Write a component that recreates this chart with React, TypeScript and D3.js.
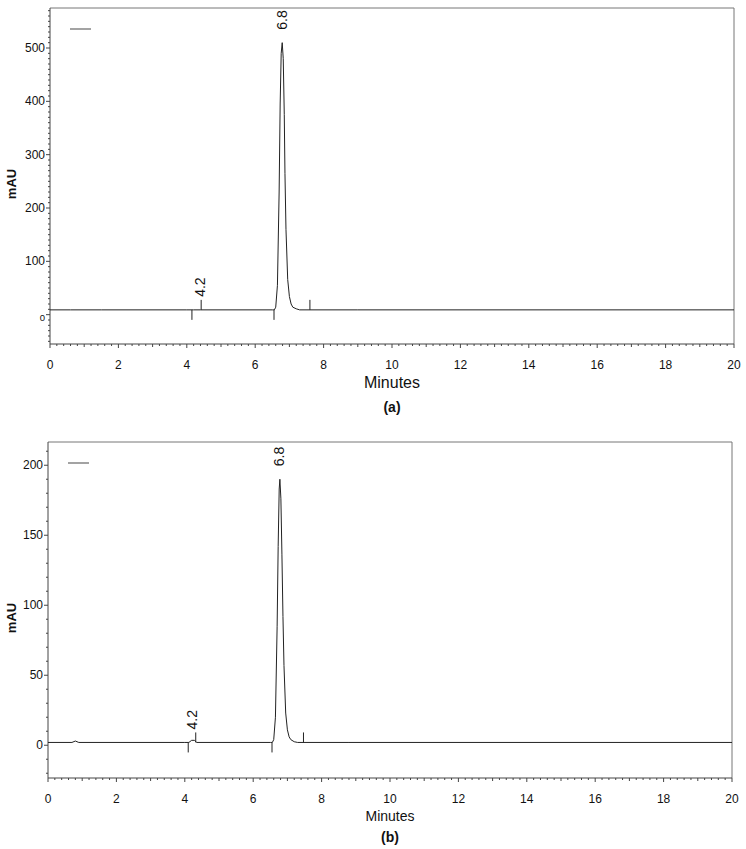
import React from 'react'
import * as d3 from 'd3'

// chromatogram (a): time in minutes, absorbance in mAU
const timeA = [0, 0.6, 1.5, 4.0, 4.2, 4.4, 6.5, 6.56, 6.6, 6.65, 6.7, 6.73, 6.76, 6.79, 6.82, 6.85, 6.87, 6.9, 6.95, 7.0, 7.05, 7.1, 7.2, 7.3, 9.0, 20]
const valueA = [9, 9, 9, 9, 9, 9, 9, 9, 14, 55, 230, 395, 490, 510, 480, 375, 265, 160, 66, 34, 20, 14, 11, 9, 9, 9]
// integration marks (a): time, direction (1 = up, -1 = down)
const marksTimeA = [4.15, 4.42, 6.55, 7.6]
const marksDirA = [-1, 1, -1, 1]
const peakLabelsA = ['4.2', '6.8']
const peakLabelTimeA = [4.38, 6.79]
const peakLabelValueA = [9, 510]

// chromatogram (b)
const timeB = [0, 0.7, 0.8, 0.9, 4.0, 4.12, 4.2, 4.28, 4.35, 6.5, 6.56, 6.6, 6.65, 6.7, 6.73, 6.76, 6.78, 6.81, 6.84, 6.87, 6.9, 6.95, 7.0, 7.05, 7.1, 7.2, 7.3, 8.8, 20]
const valueB = [2, 2, 3, 2, 2, 2, 3.5, 3.5, 2, 2, 2, 4, 20, 85, 142, 183, 190, 176, 136, 92, 57, 23, 11, 6, 4, 2.5, 2, 2, 2]
const marksTimeB = [4.1, 4.32, 6.55, 7.47]
const marksDirB = [-1, 1, -1, 1]
const peakLabelsB = ['4.2', '6.8']
const peakLabelTimeB = [4.2, 6.76]
const peakLabelValueB = [2, 190]

const xTicks = [0, 2, 4, 6, 8, 10, 12, 14, 16, 18, 20]
const yTicksA = [0, 100, 200, 300, 400, 500]
const yTicksB = [0, 50, 100, 150, 200]

const font = 'Arial, "Liberation Sans", sans-serif'

type PanelProps = {
  time: number[]
  value: number[]
  marksTime: number[]
  marksDir: number[]
  labels: string[]
  labelTime: number[]
  labelValue: number[]
  yTicks: number[]
  yDomain: [number, number]
  box: { left: number; right: number; top: number; bottom: number }
  caption: string
  titleSize: number
  titleY: number
  captionY: number
  smallZero: boolean
}

function Panel(p: PanelProps) {
  const { left, right, top, bottom } = p.box
  const x = d3.scaleLinear().domain([0, 20]).range([left, right])
  const y = d3.scaleLinear().domain(p.yDomain).range([bottom, top])
  const pts = p.time.map((t, i) => [t, p.value[i]] as [number, number])
  const line = d3.line<[number, number]>().x(d => x(d[0])).y(d => y(d[1]))
  const baseVal = p.value[0]

  const xMinor = d3.range(0, 20.001, 0.2)
  const yMinor = d3.range(Math.ceil(p.yDomain[0] / 10) * 10, p.yDomain[1], 10)

  return (
    <g>
      {/* frame */}
      <line x1={left} x2={right} y1={top} y2={top} stroke="#777" strokeWidth={1} />
      <line x1={right} x2={right} y1={top} y2={bottom} stroke="#777" strokeWidth={1} />
      <line x1={left} x2={left} y1={top} y2={bottom} stroke="#444" strokeWidth={1} />
      <line x1={left} x2={right} y1={bottom} y2={bottom} stroke="#444" strokeWidth={1} />

      {/* x ticks */}
      {xMinor.map((t, i) => {
        const major = Math.abs(t - Math.round(t / 2) * 2) < 1e-6
        const mid = Math.abs(t - Math.round(t)) < 1e-6
        return (
          <line key={'xm' + i} x1={x(t)} x2={x(t)} y1={bottom} y2={bottom + (major ? 4 : mid ? 3 : 2)} stroke="#444" strokeWidth={1} />
        )
      })}
      {xTicks.map(t => (
        <text key={'xt' + t} x={x(t)} y={bottom + 25} textAnchor="middle" fontSize={12} fontFamily={font} fill="#111">{t}</text>
      ))}

      {/* y ticks */}
      {yMinor.map((v, i) => (
        <line key={'ym' + i} x1={left} x2={left - (p.yTicks.includes(v) ? 4 : 2)} y1={y(v)} y2={y(v)} stroke="#444" strokeWidth={1} />
      ))}
      {p.yTicks.map(v => (
        <text key={'yt' + v} x={left - 5} y={y(v) + (v === 0 && p.smallZero ? 6 : 4)} textAnchor="end"
          fontSize={v === 0 && p.smallZero ? 9.5 : 12} fontFamily={font} fill="#111">{v}</text>
      ))}

      <text transform={`translate(16,${(top + bottom) / 2 + 8}) rotate(-90)`} textAnchor="middle" fontSize={13}
        fontWeight="bold" fontFamily={font} fill="#111">mAU</text>

      {/* legend stub */}
      <line x1={left + 20} x2={left + 41} y1={top + 21} y2={top + 21} stroke="#666" strokeWidth={1.2} />

      {/* trace */}
      <path d={line(pts) || ''} fill="none" stroke="#222" strokeWidth={1} />

      {/* integration marks */}
      {p.marksTime.map((t, i) => (
        <line key={'mk' + i} x1={x(t)} x2={x(t)} y1={y(baseVal)} y2={y(baseVal) - p.marksDir[i] * 10} stroke="#222" strokeWidth={1} />
      ))}

      {/* peak labels */}
      {p.labels.map((s, i) => (
        <text key={'pl' + i} transform={`translate(${x(p.labelTime[i]) + 5},${y(p.labelValue[i]) - 13}) rotate(-90)`}
          fontSize={14} fontFamily={font} fill="#111">{s}</text>
      ))}

      <text x={(left + right) / 2} y={p.titleY} textAnchor="middle" fontSize={p.titleSize} fontFamily={font} fill="#111">Minutes</text>
      <text x={(left + right) / 2} y={p.captionY} textAnchor="middle" fontSize={14} fontWeight="bold" fontFamily={font} fill="#111">{p.caption}</text>
    </g>
  )
}

export default function App() {
  return (
    <svg width={746} height={849} style={{ position: 'absolute', left: 0, top: 0, background: '#fff' }}>
      <Panel time={timeA} value={valueA} marksTime={marksTimeA} marksDir={marksDirA}
        labels={peakLabelsA} labelTime={peakLabelTimeA} labelValue={peakLabelValueA}
        yTicks={yTicksA} yDomain={[-55, 575]} box={{ left: 50, right: 734, top: 8, bottom: 344 }}
        caption="(a)" titleSize={16} titleY={388} captionY={412} smallZero={true} />
      <Panel time={timeB} value={valueB} marksTime={marksTimeB} marksDir={marksDirB}
        labels={peakLabelsB} labelTime={peakLabelTimeB} labelValue={peakLabelValueB}
        yTicks={yTicksB} yDomain={[-23.4, 216.6]} box={{ left: 48, right: 732, top: 442, bottom: 778 }}
        caption="(b)" titleSize={14} titleY={821} captionY={842} smallZero={false} />
    </svg>
  )
}
